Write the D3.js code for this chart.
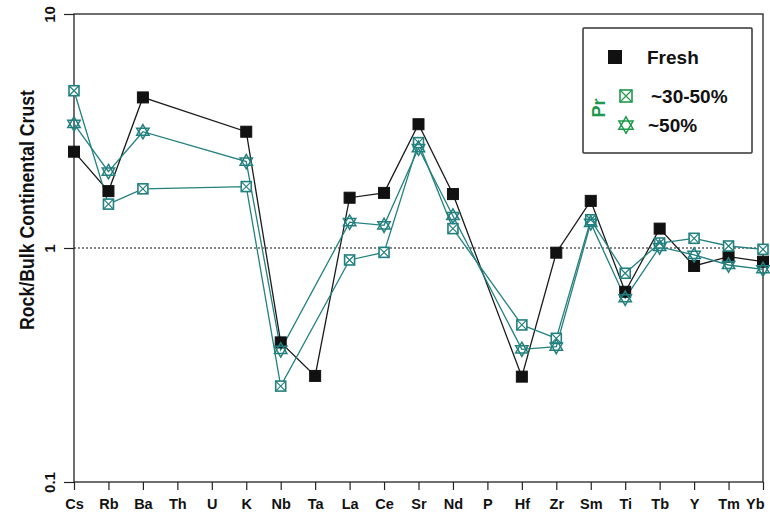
<!DOCTYPE html>
<html lang="en">
<head>
<meta charset="UTF-8">
<title>Rock/Bulk Continental Crust</title>
<style>
  body { margin: 0; padding: 0; background: #fff; }
  svg { display: block; font-family: "Liberation Sans", Arial, sans-serif; }
</style>
</head>
<body>
<div id="chart"></div>
<script src="https://d3js.org/d3.v7.min.js"></script>
<script>
// element order along the x axis
const elements = ['Cs','Rb','Ba','Th','U','K','Nb','Ta','La','Ce','Sr','Nd','P','Hf','Zr','Sm','Ti','Tb','Y','Tm','Yb'];

// values (null = not plotted)
const fresh  = [2.58, 1.75, 4.40, null, null, 3.14, 0.395, 0.284, 1.64, 1.72, 3.38, 1.70, null, 0.282, 0.955, 1.59, 0.65, 1.21, 0.838, 0.918, 0.874];
const pr3050 = [4.70, 1.54, 1.79, null, null, 1.83, 0.257, null, 0.889, 0.958, 2.82, 1.21, null, 0.469, 0.411, 1.32, 0.78, 1.05, 1.10, 1.02, 0.987];
const pr50   = [3.39, 2.12, 3.14, null, null, 2.34, 0.367, null, 1.29, 1.25, 2.67, 1.37, null, 0.369, 0.379, 1.28, 0.61, 1.01, 0.934, 0.846, 0.811];

const yTicks = [0.1, 1, 10];

const W = 770, H = 514;
const plotL = 74, plotR = 763, plotT = 14, plotB = 482;
const teal = '#23807f';
const green = '#1f9a4c';

const svg = d3.select('#chart').append('svg')
  .attr('width', W).attr('height', H);

const x = d3.scalePoint().domain(elements).range([plotL, plotR]).padding(0);
const y = d3.scaleLog().domain([0.1, 10]).range([plotB, plotT]);

// frame
svg.append('rect')
  .attr('x', plotL).attr('y', plotT)
  .attr('width', plotR - plotL).attr('height', plotB - plotT)
  .attr('fill', 'none').attr('stroke', '#222').attr('stroke-width', 1.3);

// reference line at 1
svg.append('line')
  .attr('x1', plotL).attr('x2', plotR)
  .attr('y1', y(1)).attr('y2', y(1))
  .attr('stroke', '#111').attr('stroke-width', 1.2)
  .attr('stroke-dasharray', '2,2');

// x axis
const xAxis = svg.append('g')
  .attr('transform', `translate(0,${plotB})`)
  .call(d3.axisBottom(x).tickSize(8).tickPadding(9));
xAxis.select('.domain').remove();
xAxis.selectAll('line').attr('stroke', '#222').attr('stroke-width', 1.2);
xAxis.selectAll('text')
  .attr('fill', '#111')
  .style('font-size', '14.5px')
  .style('font-weight', 'bold');
// last label sits flush against the right edge
xAxis.selectAll('text').filter(d => d === 'Yb')
  .attr('text-anchor', 'end').attr('x', 1);

// y axis
const yAxis = svg.append('g')
  .attr('transform', `translate(${plotL},0)`)
  .call(d3.axisLeft(y).tickValues(yTicks).tickFormat(d3.format('~g')).tickSize(10).tickPadding(6));
yAxis.select('.domain').remove();
yAxis.selectAll('line').attr('stroke', '#222').attr('stroke-width', 1.2);
yAxis.selectAll('text')
  .attr('fill', '#111')
  .style('font-size', '15px')
  .style('font-weight', 'bold')
  .attr('text-anchor', 'middle')
  .attr('x', null)
  .attr('transform', 'translate(-24,0) rotate(-90)')
  .attr('dy', '0.35em');

svg.append('text')
  .attr('transform', 'translate(27,210) rotate(-90)')
  .attr('text-anchor', 'middle')
  .attr('dy', '0.35em')
  .attr('textLength', 240)
  .attr('lengthAdjust', 'spacingAndGlyphs')
  .style('font-size', '20px')
  .style('font-weight', 'bold')
  .attr('fill', '#111')
  .text('Rock/Bulk Continental Crust');

// lines
const line = d3.line()
  .x(d => x(d.el))
  .y(d => y(d.v));

function pts(arr) {
  return elements.map((el, i) => ({ el, v: arr[i] })).filter(d => d.v != null);
}

const series = [
  { name: 'fresh', data: pts(fresh), color: '#1a1a1a', marker: 'square' },
  { name: 'pr3050', data: pts(pr3050), color: teal, marker: 'crossbox' },
  { name: 'pr50', data: pts(pr50), color: teal, marker: 'star' }
];

series.forEach(s => {
  svg.append('path')
    .datum(s.data)
    .attr('fill', 'none')
    .attr('stroke', s.color)
    .attr('stroke-width', 1.3)
    .attr('d', line);
});

function drawMarker(g, type, color, size) {
  const h = size / 2;
  if (type === 'square') {
    g.append('rect').attr('x', -h).attr('y', -h).attr('width', size).attr('height', size)
      .attr('fill', '#111').attr('stroke', '#111');
  } else if (type === 'crossbox') {
    g.append('rect').attr('x', -h).attr('y', -h).attr('width', size).attr('height', size)
      .attr('fill', '#fff').attr('stroke', color).attr('stroke-width', 1.6);
    g.append('path').attr('d', `M${-h},${-h}L${h},${h}M${h},${-h}L${-h},${h}`)
      .attr('stroke', color).attr('stroke-width', 1.2);
  } else if (type === 'star') {
    const r = h * 1.1;
    const up = d3.range(3).map(k => {
      const a = -Math.PI / 2 + k * 2 * Math.PI / 3;
      return [r * Math.cos(a), r * Math.sin(a)];
    });
    const dn = up.map(p => [p[0], -p[1]]);
    g.append('path').attr('d', 'M' + up.join('L') + 'Z')
      .attr('fill', 'none').attr('stroke', color).attr('stroke-width', 1.5);
    g.append('path').attr('d', 'M' + dn.join('L') + 'Z')
      .attr('fill', 'none').attr('stroke', color).attr('stroke-width', 1.5);
  }
}

series.forEach(s => {
  const size = s.marker === 'square' ? 11 : s.marker === 'crossbox' ? 10 : 13;
  svg.append('g').selectAll('g')
    .data(s.data)
    .join('g')
    .attr('transform', d => `translate(${x(d.el)},${y(d.v)})`)
    .each(function () { drawMarker(d3.select(this), s.marker, s.color, size); });
});

// legend
const lg = svg.append('g');
lg.append('rect')
  .attr('x', 583).attr('y', 28).attr('width', 169).attr('height', 125)
  .attr('fill', '#fff').attr('stroke', '#333').attr('stroke-width', 1.5).attr('rx', 1);

const legendItems = [
  { label: 'Fresh', marker: 'square', color: '#111', cx: 615, cy: 57, tx: 647, size: 13 },
  { label: '~30-50%', marker: 'crossbox', color: green, cx: 626, cy: 96, tx: 651, size: 12 },
  { label: '~50%', marker: 'star', color: green, cx: 626, cy: 125, tx: 648, size: 15 }
];
legendItems.forEach(it => {
  const g = lg.append('g').attr('transform', `translate(${it.cx},${it.cy})`);
  drawMarker(g, it.marker, it.color, it.size);
  lg.append('text')
    .attr('x', it.tx).attr('y', it.cy)
    .attr('dy', '0.36em')
    .style('font-size', '19px')
    .style('font-weight', 'bold')
    .attr('fill', '#111')
    .text(it.label);
});
lg.append('text')
  .attr('transform', 'translate(599,108) rotate(-90)')
  .attr('text-anchor', 'middle')
  .attr('dy', '0.36em')
  .style('font-size', '18px')
  .style('font-weight', 'bold')
  .attr('fill', green)
  .text('Pr');
</script>
</body>
</html>
